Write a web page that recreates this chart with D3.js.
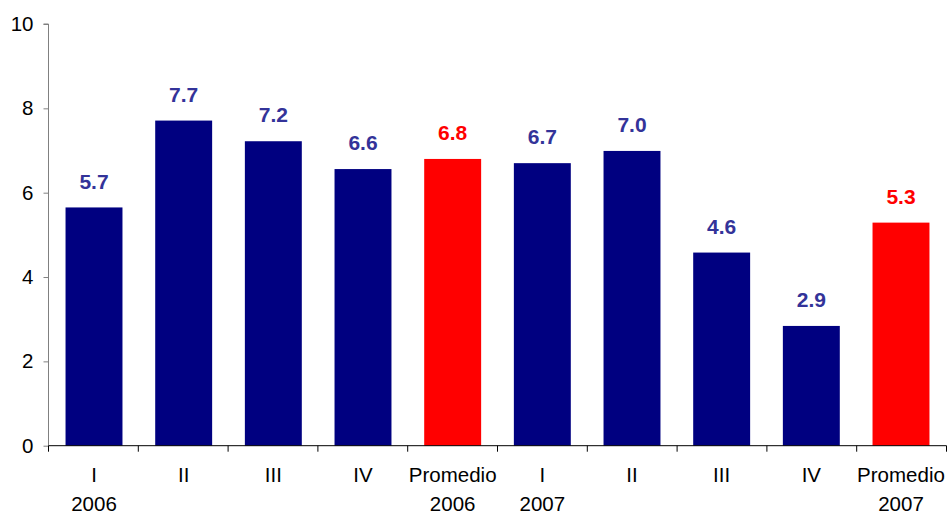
<!DOCTYPE html>
<html><head><meta charset="utf-8">
<script src="https://cdn.jsdelivr.net/npm/d3@7"></script>
<style>body{margin:0;background:#fff}svg{display:block}text{font-family:"Liberation Sans",Arial,sans-serif}</style>
</head><body><svg id="c" width="949" height="513"></svg>
<script>
const categories = ["I\n2006","II","III","IV","Promedio\n2006","I\n2007","II","III","IV","Promedio\n2007"];
const values = [5.65,7.71,7.22,6.56,6.8,6.7,6.99,4.58,2.84,5.29];
const valueLabels = ["5.7","7.7","7.2","6.6","6.8","6.7","7.0","4.6","2.9","5.3"];
const isAverage = [false,false,false,false,true,false,false,false,false,true];
const yTicks = [0,2,4,6,8,10];

const svg = d3.select("#c");
const mLeft = 48.5, mRight = 946.5, mTop = 24, mBottom = 445.7;
const x = d3.scaleBand().domain(d3.range(categories.length)).range([mLeft,mRight]).paddingInner(0.365).paddingOuter(0.19);
const y = d3.scaleLinear().domain([0,10]).range([mBottom,mTop]);

svg.selectAll("rect.bar").data(values).join("rect")
  .attr("x",(d,i)=>x(i)).attr("width",x.bandwidth())
  .attr("y",d=>y(d)).attr("height",d=>y(0)-y(d))
  .attr("fill",(d,i)=>isAverage[i]?"#FF0000":"#000080");

svg.selectAll("text.val").data(values).join("text")
  .attr("x",(d,i)=>x(i)+x.bandwidth()/2).attr("y",d=>y(d)-18.8)
  .attr("text-anchor","middle").attr("font-size",21).attr("font-weight","bold")
  .attr("fill",(d,i)=>isAverage[i]?"#FF0000":"#333399")
  .text((d,i)=>valueLabels[i]);

// y axis
const ya = svg.append("g").attr("transform",`translate(${mLeft},0)`)
  .call(d3.axisLeft(y).tickValues(yTicks).tickSize(5).tickPadding(10).tickFormat(d3.format("d")));
ya.select(".domain").attr("stroke","#808080").attr("d",`M-5,${mTop}H0V${mBottom}`);
ya.selectAll(".tick line").attr("stroke","#808080");
ya.selectAll(".tick text").attr("font-size",20.5).attr("fill","#000").attr("font-family","Liberation Sans, Arial, sans-serif");

// x axis
const step = (mRight-mLeft)/categories.length;
const xg = svg.append("g");
xg.append("line").attr("x1",mLeft).attr("x2",mRight).attr("y1",mBottom).attr("y2",mBottom).attr("stroke","#000");
xg.selectAll("line.tk").data(d3.range(categories.length+1)).join("line")
  .attr("x1",i=>mLeft+i*step).attr("x2",i=>mLeft+i*step).attr("y1",mBottom).attr("y2",mBottom+6).attr("stroke","#000");
const lab = xg.selectAll("text.cat").data(categories).join("text")
  .attr("text-anchor","middle").attr("font-size",20.5).attr("fill","#000")
  .attr("transform",(d,i)=>`translate(${x(i)+x.bandwidth()/2},0)`);
lab.each(function(d){
  const t=d3.select(this);
  d.split("\n").forEach((s,k)=>t.append("tspan").attr("x",0).attr("y",481.5+k*29).text(s));
});
</script></body></html>
